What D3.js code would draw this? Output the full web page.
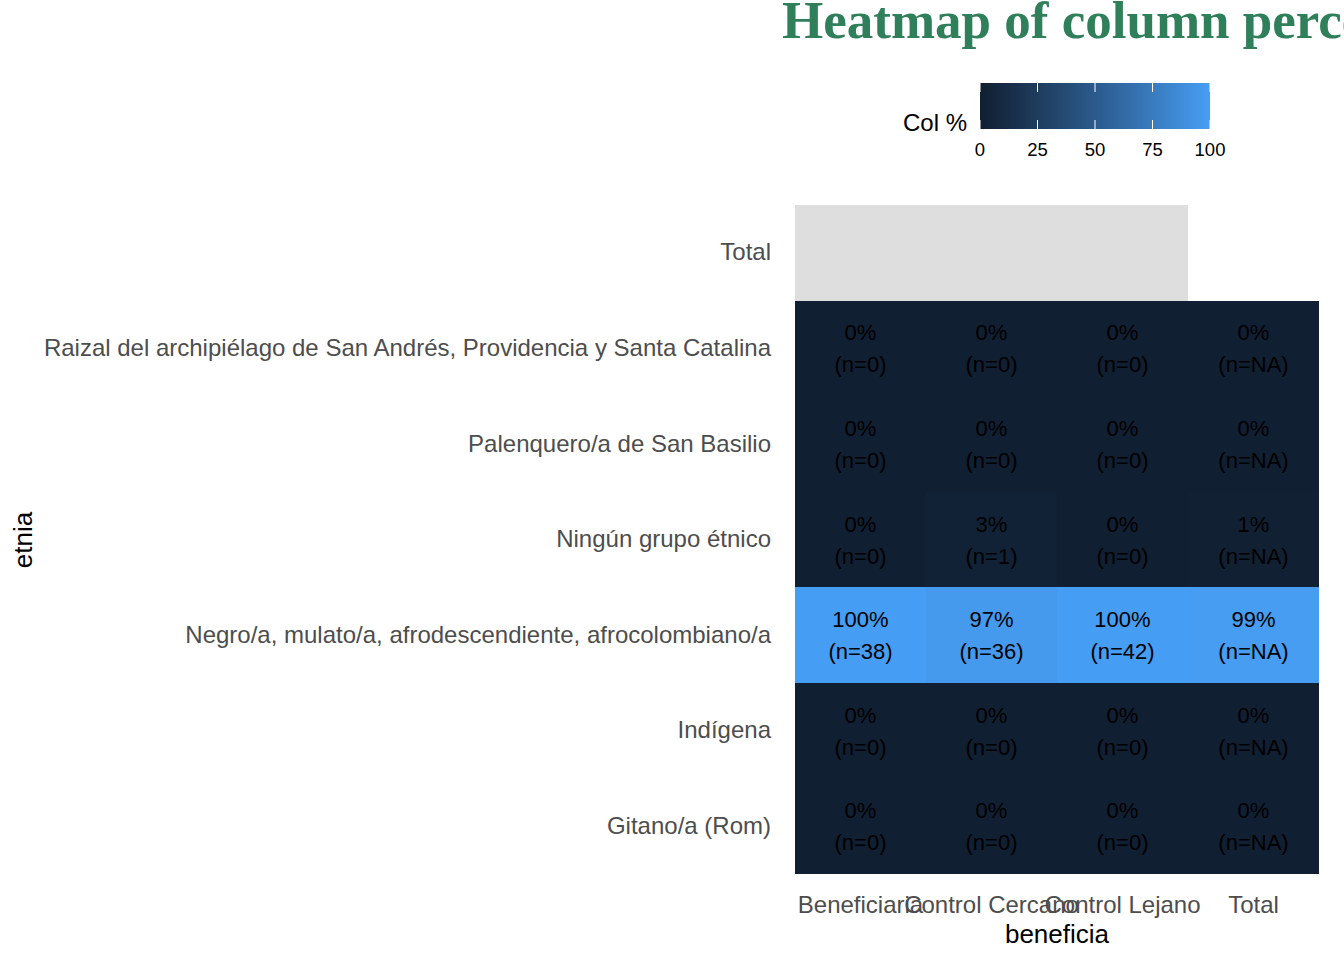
<!DOCTYPE html>
<html>
<head>
<meta charset="utf-8">
<script src="https://cdn.jsdelivr.net/npm/d3@7"></script>
<style>
  body { margin: 0; background: #fff; }
  svg { display: block; font-family: "Liberation Sans", Arial, sans-serif; }
</style>
</head>
<body>
<svg width="1344" height="960"></svg>
<script>
// columns (beneficia) and rows (etnia), top row first
var columns = ["Beneficiaria", "Control Cercano", "Control Lejano", "Total"];
var rows = [
    "Total",
    "Raizal del archipiélago de San Andrés, Providencia y Santa Catalina",
    "Palenquero/a de San Basilio",
    "Ningún grupo étnico",
    "Negro/a, mulato/a, afrodescendiente, afrocolombiano/a",
    "Indígena",
    "Gitano/a (Rom)"
];

// column percentages, one array per row (null = NA, no entry = no tile)
var pctTotal = [null, null, null];
var pctRaizal = [0, 0, 0, 0];
var pctPalenquero = [0, 0, 0, 0];
var pctNinguno = [0, 2.7, 0, 0.9];
var pctNegro = [100, 97.3, 100, 99.1];
var pctIndigena = [0, 0, 0, 0];
var pctGitano = [0, 0, 0, 0];

// counts, one array per row
var nRaizal = [0, 0, 0, "NA"];
var nPalenquero = [0, 0, 0, "NA"];
var nNinguno = [0, 1, 0, "NA"];
var nNegro = [38, 36, 42, "NA"];
var nIndigena = [0, 0, 0, "NA"];
var nGitano = [0, 0, 0, "NA"];

var legendTicks = [0, 25, 50, 75, 100];

var pctRows = [pctTotal, pctRaizal, pctPalenquero, pctNinguno, pctNegro, pctIndigena, pctGitano];
var nRows = [null, nRaizal, nPalenquero, nNinguno, nNegro, nIndigena, nGitano];

var cells = [];
rows.forEach(function (r, i) {
    pctRows[i].forEach(function (v, j) {
        cells.push({row: r, col: columns[j], pct: v, n: nRows[i] ? nRows[i][j] : null});
    });
});

var svg = d3.select("svg");

var x = d3.scaleBand().domain(columns).range([795, 1319]);
var y = d3.scaleBand().domain(rows).range([205, 874]);

var color = d3.scaleLinear()
    .domain([0, 100])
    .range(["#111F32", "#469EF4"])
    .interpolate(d3.interpolateLab);

// tiles
svg.append("g")
    .attr("shape-rendering", "crispEdges")
    .selectAll("rect")
    .data(cells)
    .enter().append("rect")
    .attr("x", function (d) { return x(d.col); })
    .attr("y", function (d) { return Math.round(y(d.row)); })
    .attr("width", x.bandwidth())
    .attr("height", function (d) { return Math.round(y(d.row) + y.bandwidth()) - Math.round(y(d.row)); })
    .attr("fill", function (d) { return d.pct == null ? "#DEDEDE" : color(d.pct); });

// cell labels
var lab = svg.append("g")
    .selectAll("text")
    .data(cells.filter(function (d) { return d.pct != null; }))
    .enter().append("text")
    .attr("text-anchor", "middle")
    .attr("font-size", 22)
    .attr("fill", "#000");

lab.append("tspan")
    .attr("x", function (d) { return x(d.col) + x.bandwidth() / 2; })
    .attr("y", function (d) { return y(d.row) + y.bandwidth() / 2 - 8; })
    .text(function (d) { return Math.round(d.pct) + "%"; });

lab.append("tspan")
    .attr("x", function (d) { return x(d.col) + x.bandwidth() / 2; })
    .attr("y", function (d) { return y(d.row) + y.bandwidth() / 2 + 24; })
    .text(function (d) { return "(n=" + d.n + ")"; });

// axes
var xAxis = svg.append("g")
    .attr("transform", "translate(0,874)")
    .call(d3.axisBottom(x).tickSize(0).tickPadding(22));
xAxis.select(".domain").remove();
xAxis.selectAll("text")
    .attr("font-size", 24)
    .attr("fill", "#4D4D4D")
    .attr("font-family", "Liberation Sans, Arial, sans-serif");

var yAxis = svg.append("g")
    .attr("transform", "translate(795,0)")
    .call(d3.axisLeft(y).tickSize(0).tickPadding(24));
yAxis.select(".domain").remove();
yAxis.selectAll("text")
    .attr("font-size", 24)
    .attr("fill", "#4D4D4D")
    .attr("font-family", "Liberation Sans, Arial, sans-serif");

svg.append("text")
    .attr("x", 1057)
    .attr("y", 943)
    .attr("text-anchor", "middle")
    .attr("font-size", 26)
    .text("beneficia");

svg.append("text")
    .attr("transform", "translate(32,540) rotate(-90)")
    .attr("text-anchor", "middle")
    .attr("font-size", 26)
    .text("etnia");

// title (runs past the right edge, as in the original)
svg.append("text")
    .attr("x", 782)
    .attr("y", 38)
    .attr("font-family", "Liberation Serif, Times New Roman, serif")
    .attr("font-weight", "bold")
    .attr("font-size", 53)
    .attr("fill", "#2E7F5A")
    .text("Heatmap of column percentages");

// legend colourbar
var lx = d3.scaleLinear().domain([0, 100]).range([980, 1210]);
var defs = svg.append("defs");
var grad = defs.append("linearGradient").attr("id", "lg");
d3.range(0, 101, 10).forEach(function (v) {
    grad.append("stop").attr("offset", v + "%").attr("stop-color", color(v));
});
svg.append("rect")
    .attr("x", lx(0))
    .attr("y", 83)
    .attr("width", lx(100) - lx(0))
    .attr("height", 46)
    .attr("fill", "url(#lg)");

var lt = svg.append("g");
legendTicks.forEach(function (t) {
    lt.append("line")
        .attr("x1", lx(t)).attr("x2", lx(t))
        .attr("y1", 83).attr("y2", 92)
        .attr("stroke", "#fff").attr("stroke-width", 1);
    lt.append("line")
        .attr("x1", lx(t)).attr("x2", lx(t))
        .attr("y1", 120).attr("y2", 129)
        .attr("stroke", "#fff").attr("stroke-width", 1);
    lt.append("text")
        .attr("x", lx(t))
        .attr("y", 156)
        .attr("text-anchor", "middle")
        .attr("font-size", 18.5)
        .text(t);
});

svg.append("text")
    .attr("x", 903)
    .attr("y", 131)
    .attr("font-size", 24)
    .text("Col %");
</script>
</body>
</html>
